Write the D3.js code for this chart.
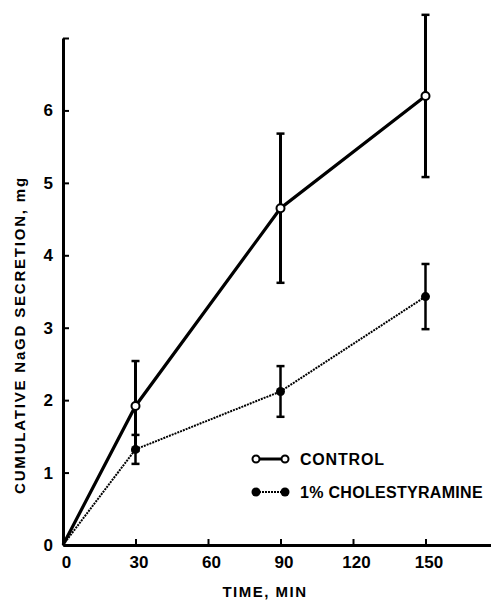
<!DOCTYPE html>
<html>
<head>
<meta charset="utf-8">
<script src="https://cdn.jsdelivr.net/npm/d3@7/dist/d3.min.js"></script>
<style>
html,body{margin:0;padding:0;background:#fff;}
svg{display:block;}
text{font-family:"Liberation Sans",Arial,sans-serif;font-weight:bold;fill:#000;}
</style>
</head>
<body>
<svg id="chart" width="491" height="600"></svg>
<script>
const times = [0, 30, 90, 150];
const controlMean = [0, 1.92, 4.65, 6.2];
const controlErr = [0, 0.62, 1.03, 1.12];
const cholMean = [0, 1.32, 2.12, 3.43];
const cholErr = [0, 0.2, 0.35, 0.45];
const xTicks = [0, 30, 60, 90, 120, 150];
const yTicks = [0, 1, 2, 3, 4, 5, 6, 7];
const yTickLabels = ["0", "1", "2", "3", "4", "5", "6", ""];
const legendLabels = ["CONTROL", "1% CHOLESTYRAMINE"];

const svg = d3.select("#chart");
const x = d3.scaleLinear().domain([0, 180]).range([63, 498]);
const y = d3.scaleLinear().domain([0, 7]).range([545, 38]);

// axes
const xAxis = svg.append("g").attr("transform", `translate(0,${y(0)})`)
  .call(d3.axisBottom(x).tickValues(xTicks).tickSizeInner(-6).tickSizeOuter(0).tickPadding(11));
xAxis.attr("font-size", 17);
xAxis.select(".domain").attr("stroke-width", 3);
xAxis.selectAll(".tick line").attr("stroke-width", 2);
xAxis.selectAll(".tick text").attr("font-size", 17).attr("dx", 3)
  .style("font-family", "Liberation Sans").style("font-weight", "bold");

const yAxis = svg.append("g").attr("transform", `translate(${x(0)},0)`)
  .call(d3.axisLeft(y).tickValues(yTicks).tickFormat((d, i) => yTickLabels[i])
    .tickSizeInner(-6).tickSizeOuter(0).tickPadding(10));
yAxis.attr("font-size", 17);
yAxis.select(".domain").attr("stroke-width", 3);
yAxis.selectAll(".tick line").attr("stroke-width", 2);
yAxis.selectAll(".tick text").attr("font-size", 17)
  .style("font-family", "Liberation Sans").style("font-weight", "bold");

// axis titles
svg.append("text").attr("x", 265).attr("y", 597).attr("text-anchor", "middle")
  .attr("font-size", 15).attr("letter-spacing", 1.5).text("TIME, MIN");
svg.append("text").attr("transform", "translate(25,335) rotate(-90)").attr("text-anchor", "middle")
  .attr("font-size", 15).attr("letter-spacing", 1.8).text("CUMULATIVE NaGD SECRETION, mg");

const line = d3.line().x(d => x(d[0])).y(d => y(d[1]));
const ctrl = times.map((t, i) => [t, controlMean[i], controlErr[i]]);
const chol = times.map((t, i) => [t, cholMean[i], cholErr[i]]);

function errBars(data, w) {
  const g = svg.append("g").attr("stroke", "#000").attr("stroke-width", w);
  data.filter(d => d[2] > 0).forEach(d => {
    g.append("line").attr("x1", x(d[0])).attr("x2", x(d[0]))
      .attr("y1", y(d[1] - d[2])).attr("y2", y(d[1] + d[2]));
    [d[1] - d[2], d[1] + d[2]].forEach(v => {
      g.append("line").attr("x1", x(d[0]) - 4).attr("x2", x(d[0]) + 4)
        .attr("y1", y(v)).attr("y2", y(v)).attr("stroke-width", 2.5);
    });
  });
}
errBars(chol, 2.5);
errBars(ctrl, 3);

svg.append("path").datum(chol).attr("d", line).attr("fill", "none")
  .attr("stroke", "#000").attr("stroke-width", 2).attr("stroke-dasharray", "2,1");
svg.append("path").datum(ctrl).attr("d", line).attr("fill", "none")
  .attr("stroke", "#000").attr("stroke-width", 3.2);

svg.append("g").selectAll("circle").data(chol.slice(1)).join("circle")
  .attr("cx", d => x(d[0])).attr("cy", d => y(d[1])).attr("r", 4.5).attr("fill", "#000");
svg.append("g").selectAll("circle").data(ctrl.slice(1)).join("circle")
  .attr("cx", d => x(d[0])).attr("cy", d => y(d[1])).attr("r", 4)
  .attr("fill", "#fff").attr("stroke", "#000").attr("stroke-width", 2);

// legend
const lg = svg.append("g");
lg.append("line").attr("x1", 256).attr("x2", 285).attr("y1", 459).attr("y2", 459)
  .attr("stroke", "#000").attr("stroke-width", 3);
[256, 285].forEach(cx => lg.append("circle").attr("cx", cx).attr("cy", 459).attr("r", 3.5)
  .attr("fill", "#fff").attr("stroke", "#000").attr("stroke-width", 2));
lg.append("line").attr("x1", 256).attr("x2", 285).attr("y1", 492).attr("y2", 492)
  .attr("stroke", "#000").attr("stroke-width", 2).attr("stroke-dasharray", "2,1");
[256, 285].forEach(cx => lg.append("circle").attr("cx", cx).attr("cy", 492).attr("r", 4.5)
  .attr("fill", "#000"));
lg.append("text").attr("x", 300).attr("y", 465).attr("font-size", 16).attr("letter-spacing", 0.8)
  .text(legendLabels[0]);
lg.append("text").attr("x", 300).attr("y", 498).attr("font-size", 16).attr("letter-spacing", 0.3)
  .text(legendLabels[1]);
</script>
</body>
</html>
